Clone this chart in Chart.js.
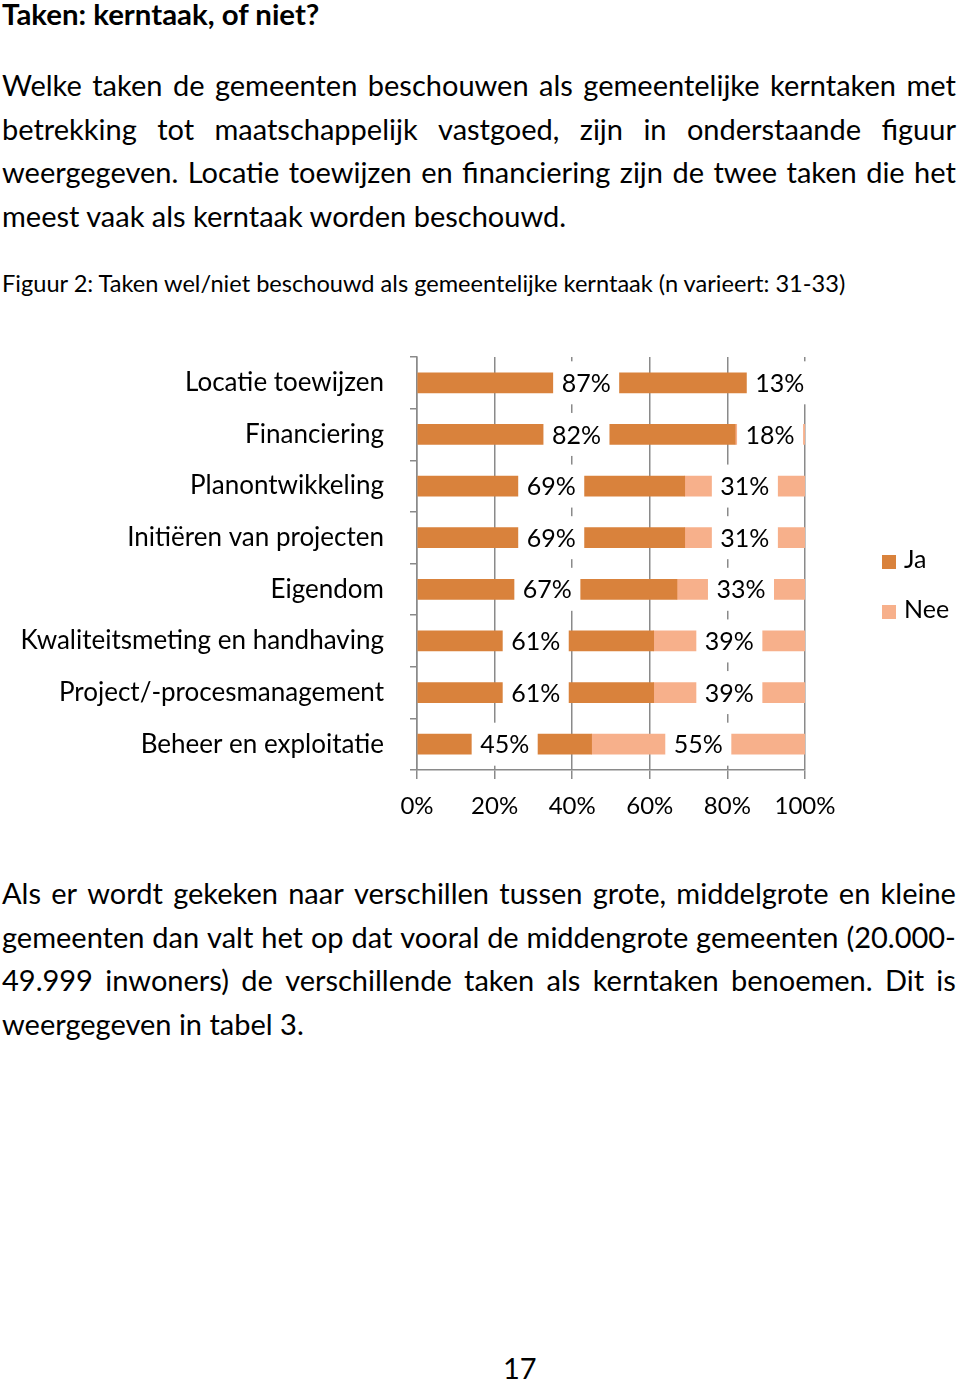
<!DOCTYPE html>
<html>
<head>
<meta charset="utf-8">
<script src="https://cdn.jsdelivr.net/npm/chart.js@4.4.0/dist/chart.umd.min.js"></script>
<style>
  body { margin: 0; width: 960px; height: 1381px; background: #fff; position: relative; overflow: hidden;
         font-family: Lato, "Open Sans", sans-serif; color: #000; }
  .line { position: absolute; left: 2px; width: 954px; display: flex; justify-content: space-between; white-space: nowrap; }
  .plain { position: absolute; left: 2px; white-space: nowrap; }
  #chartBox { position: absolute; left: 0; top: 330px; }
  .leg { position: absolute; left: 882px; font-size: 25px; line-height: 30px; white-space: nowrap; }
  .leg i { display: inline-block; width: 14px; height: 14px; margin-right: 8px; vertical-align: -1px; }
</style>
</head>
<body>

<div class="plain" style="top:-4px;font-size:29.4px;font-weight:bold;line-height:36px">Taken: kerntaak, of niet?</div>
<div id="para1"></div>
<div class="plain" style="top:268px;font-size:23.6px;line-height:30px">Figuur 2: Taken wel/niet beschouwd als gemeentelijke kerntaak (n varieert: 31-33)</div>

<canvas id="chartBox" width="960" height="520"></canvas>
<div id="legend"></div>

<div id="para2"></div>
<div class="plain" style="top:1351px;left:503px;font-size:29px;line-height:34px">17</div>

<script>
const categories = ['Locatie toewijzen', 'Financiering', 'Planontwikkeling', 'Initiëren van projecten',
  'Eigendom', 'Kwaliteitsmeting en handhaving', 'Project/-procesmanagement', 'Beheer en exploitatie'];
const jaValues = [87, 82, 69, 69, 67, 61, 61, 45];
const neeValues = [13, 18, 31, 31, 33, 39, 39, 55];
const seriesNames = ['Ja', 'Nee'];
const xTicks = [0, 20, 40, 60, 80, 100];

const colJa = '#D9823C';
const colNee = '#F7B08B';
const gridCol = '#8a8a8a';

// page text, one div per printed line so the justification matches
const para1 = [
  'Welke taken de gemeenten beschouwen als gemeentelijke kerntaken met',
  'betrekking tot maatschappelijk vastgoed, zijn in onderstaande figuur',
  'weergegeven. Locatie toewijzen en financiering zijn de twee taken die het',
  'meest vaak als kerntaak worden beschouwd.'
];
const para2 = [
  'Als er wordt gekeken naar verschillen tussen grote, middelgrote en kleine',
  'gemeenten dan valt het op dat vooral de middengrote gemeenten (20.000-',
  '49.999 inwoners) de verschillende taken als kerntaken benoemen. Dit is',
  'weergegeven in tabel 3.'
];

function addPara(id, lines, top, step, size) {
  const holder = document.getElementById(id);
  lines.forEach((txt, i) => {
    const d = document.createElement('div');
    const last = i === lines.length - 1;
    d.className = last ? 'plain' : 'line';
    d.style.top = (top + i * step) + 'px';
    d.style.fontSize = size + 'px';
    d.style.lineHeight = step + 'px';
    if (last) {
      d.textContent = txt;
    } else {
      txt.split(' ').forEach(w => {
        const s = document.createElement('span');
        s.textContent = w;
        d.appendChild(s);
      });
    }
    holder.appendChild(d);
  });
}
addPara('para1', para1, 63, 43.5, 29);
addPara('para2', para2, 871, 43.7, 29);

// white boxed percentage labels in the middle of each segment
const boxLabels = {
  id: 'boxLabels',
  afterDatasetsDraw(chart) {
    const ctx = chart.ctx;
    ctx.save();
    ctx.font = '25px Lato';
    ctx.textAlign = 'center';
    ctx.textBaseline = 'middle';
    chart.data.datasets.forEach((ds, i) => {
      chart.getDatasetMeta(i).data.forEach((bar, j) => {
        const txt = ds.data[j] + '%';
        const cx = (bar.x + bar.base) / 2;
        const w = ctx.measureText(txt).width + 17;
        ctx.fillStyle = '#fff';
        ctx.fillRect(cx - w / 2, bar.y - 21.5, w, 43);
        ctx.fillStyle = '#000';
        ctx.fillText(txt, cx, bar.y + 1);
      });
    });
    ctx.restore();
  }
};

const chart = new Chart(document.getElementById('chartBox'), {
  type: 'bar',
  data: {
    labels: categories,
    datasets: [
      { label: seriesNames[0], data: jaValues, backgroundColor: colJa, barThickness: 20 },
      { label: seriesNames[1], data: neeValues, backgroundColor: colNee, barThickness: 20 }
    ]
  },
  options: {
    responsive: false,
    animation: false,
    indexAxis: 'y',
    layout: { padding: { top: 27, right: 155, left: 0, bottom: 0 } },
    plugins: { legend: { display: false }, tooltip: { enabled: false } },
    scales: {
      x: {
        stacked: true,
        min: 0, max: 100,
        afterBuildTicks: s => { s.ticks = xTicks.map(v => ({ value: v })); },
        afterFit: s => { s.height = 80; },
        grid: { color: gridCol, lineWidth: 1.5, tickLength: 9 },
        border: { color: gridCol, width: 1.5 },
        ticks: { color: '#000', padding: 13, font: { family: 'Lato', size: 24 }, callback: v => v + '%' }
      },
      y: {
        stacked: true,
        afterFit: s => { s.width = 417; s.paddingTop = 0; s.paddingBottom = 0; },
        grid: { drawOnChartArea: false, color: gridCol, lineWidth: 1.5, tickLength: 7 },
        border: { color: gridCol, width: 1.5 },
        ticks: { color: '#000', padding: 26, font: { family: 'Lato', size: 26 } }
      }
    }
  },
  plugins: [boxLabels]
});

// legend built from the dataset colours and names
const leg = document.getElementById('legend');
chart.data.datasets.forEach((ds, i) => {
  const d = document.createElement('div');
  d.className = 'leg';
  d.style.top = (543 + i * 50) + 'px';
  d.innerHTML = '<i style="background:' + ds.backgroundColor + '"></i>' + ds.label;
  leg.appendChild(d);
});
</script>
</body>
</html>
